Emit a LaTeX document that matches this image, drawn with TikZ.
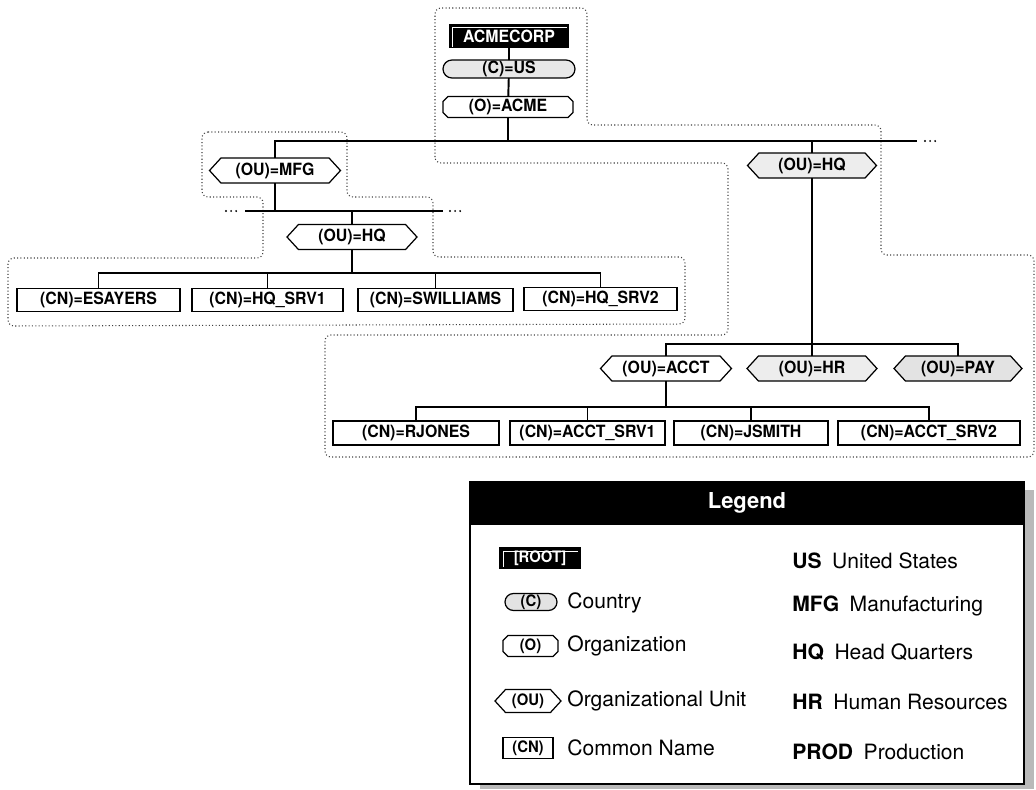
\documentclass[tikz,border=0pt]{standalone}
\usepackage{fontspec}
\setmainfont{TeX Gyre Heros}
\newfontfamily\lblfont[FakeStretch=0.94]{TeX Gyre Heros}
\usetikzlibrary{shapes.misc,shapes.symbols,calc}
\newdimen\pxu \pxu=0.02cm

\tikzset{
  lbl/.style={font=\lblfont\fontsize{9.6}{10}\selectfont\bfseries, inner sep=0pt, outer sep=0pt},
  tree/.style={line width=1.1pt},
  cnbox/.style={lbl, rectangle, draw, line width=0.8pt, fill=white, minimum height=23\pxu},
  ouhex/.style={lbl, signal, signal to=west and east, signal pointer angle=95,
    draw, line width=0.7pt, fill=white, minimum height=25\pxu},
  cshape/.style={lbl, rounded rectangle, draw, line width=0.7pt, fill=gray!18, minimum height=18\pxu},
  oshape/.style={lbl, rectangle, minimum height=21\pxu},
  octline/.style={line width=0.7pt},
  rootbox/.style={lbl, rectangle, draw, line width=0.8pt, fill=black, text=white},
  bevel/.style={white, line width=0.5pt},
  shade1/.style={fill=gray!14},
  shade2/.style={fill=gray!22},
  region/.style={black!75, line width=0.6pt, dash pattern=on 0.6pt off 1.3pt, rounded corners=6\pxu},
  more/.style={line width=1.2pt, dash pattern=on 0pt off 2.9pt, line cap=round},
  legtxt/.style={font=\fontsize{12}{14}\selectfont, inner sep=0pt, anchor=west},
  legkey/.style={font=\lblfont\fontsize{9}{10}\selectfont\bfseries}
}

% outline with cut corners around an organization node
\newcommand\octframe[2][5]{%
  \draw[octline] ($(#2.north west)+(#1,0)$) -- ($(#2.north east)+(-#1,0)$)
    -- ($(#2.north east)+(0,#1)$) -- ($(#2.south east)+(0,-#1)$)
    -- ($(#2.south east)+(-#1,0)$) -- ($(#2.south west)+(#1,0)$)
    -- ($(#2.south west)+(0,-#1)$) -- ($(#2.north west)+(0,#1)$) -- cycle;}

\begin{document}
\begin{tikzpicture}[x=0.02cm, y=-0.02cm]
\useasboundingbox (0,0) rectangle (1036,789);

% ---- partition outlines ----
\draw[region] (435,163) -- (435,8) -- (587,8) -- (587,125) -- (881,125) -- (881,255)
  -- (1034,255) -- (1034,457) -- (325,457) -- (325,335) -- (728,335) -- (728,163) -- cycle;
\draw[region] (202,132) -- (347,132) -- (347,197) -- (433,197) -- (433,257) -- (685,257)
  -- (685,324) -- (8,326) -- (8,258) -- (263,258) -- (263,197) -- (202,197) -- cycle;

% ---- root, country, organization ----
\node[rootbox, minimum width=119\pxu, minimum height=23\pxu] (acmecorp) at (509,36) {ACMECORP};
\draw[bevel] ($(acmecorp.south west)+(3,-1)$) |- ($(acmecorp.north east)+(-2,3)$);
\node[cshape, minimum width=132\pxu] (us) at (509,69) {(C)=US};
\node[oshape, minimum width=130\pxu] (acme) at (508,107) {(O)=ACME};
\octframe{acme}
\draw[tree] (acmecorp) -- (us);
\draw[tree] (us) -- (acme);

% ---- top level organizational units ----
\coordinate (topend) at (917,141);
\node[ouhex, minimum width=131\pxu] (mfg) at (275,170.5) {(OU)=MFG};
\node[ouhex, shade1, minimum width=129\pxu] (hqr) at (812,165.5) {(OU)=HQ};
\draw[tree] (mfg.north) |- (topend);
\draw[tree] (acme.south) -- (acme.south |- topend);
\draw[tree] (hqr.north) -- (hqr.north |- topend);
\draw[more] ($(topend)+(8,0)$) -- ++(12,0);

% ---- MFG branch ----
\coordinate (lbusL) at (245,211);
\coordinate (lbusR) at (443,211);
\draw[tree] (lbusL) -- (lbusR);
\draw[more] ($(lbusL)+(-19,0)$) -- ++(12,0);
\draw[more] ($(lbusR)+(7,0)$) -- ++(12,0);
\draw[tree] (mfg.south) -- (mfg.south |- lbusL);
\node[ouhex, minimum width=130\pxu] (hql) at (352,237) {(OU)=HQ};
\draw[tree] (hql.north) -- (hql.north |- lbusL);

\coordinate (lcb) at (0,273);
\node[cnbox, minimum width=163\pxu] (esayers) at (98.5,300) {(CN)=ESAYERS};
\node[cnbox, minimum width=151\pxu] (hqsrv1) at (267.5,300) {(CN)=HQ\_SRV1};
\node[cnbox, minimum width=155\pxu] (swilliams) at (435.5,300) {(CN)=SWILLIAMS};
\node[cnbox, minimum width=153\pxu] (hqsrv2) at (600.5,299) {(CN)=HQ\_SRV2};
\draw[tree] (esayers.north) |- (lcb -| hqsrv2.north) -- (hqsrv2.north);
\draw[tree] (hqsrv1.north) -- (hqsrv1.north |- lcb);
\draw[tree] (swilliams.north) -- (swilliams.north |- lcb);
\draw[tree] (hql.south) -- (hql.south |- lcb);

% ---- HQ branch ----
\coordinate (rb) at (0,344);
\node[ouhex, minimum width=131\pxu] (acct) at (666,368.5) {(OU)=ACCT};
\node[ouhex, shade1, minimum width=130\pxu] (hr) at (812,368.5) {(OU)=HR};
\node[ouhex, shade2, minimum width=128\pxu] (pay) at (958,368.5) {(OU)=PAY};
\draw[tree] (hqr.south) -- (hr.north);
\draw[tree] (acct.north) |- (rb -| pay.north) -- (pay.north);

\coordinate (rcb) at (0,407);
\node[cnbox, minimum height=24\pxu, minimum width=166\pxu] (rjones) at (416,433) {(CN)=RJONES};
\node[cnbox, minimum height=24\pxu, minimum width=155\pxu] (acctsrv1) at (587.5,433) {(CN)=ACCT\_SRV1};
\node[cnbox, minimum height=24\pxu, minimum width=154\pxu] (jsmith) at (751,433) {(CN)=JSMITH};
\node[cnbox, minimum height=24\pxu, minimum width=182\pxu] (acctsrv2) at (929,433) {(CN)=ACCT\_SRV2};
\draw[tree] (rjones.north) |- (rcb -| acctsrv2.north) -- (acctsrv2.north);
\draw[tree] (acctsrv1.north) -- (acctsrv1.north |- rcb);
\draw[tree] (jsmith.north) -- (jsmith.north |- rcb);
\draw[tree] (acct.south) -- (acct.south |- rcb);

% ---- legend ----
\fill[gray!55] (1024,490) rectangle (1034,789);
\fill[gray!55] (480,784) rectangle (1034,789);
\node[rectangle, draw, line width=1.2pt, fill=white, minimum width=554\pxu, minimum height=302\pxu,
  inner sep=0pt] (legend) at (747,633) {};
\node[rectangle, fill=black, draw, line width=1.2pt, minimum width=554\pxu, minimum height=42\pxu,
  text=white, font=\fontsize{12.5}{14}\selectfont\bfseries] (legendhead) at (747,503) {Legend};

\node[rootbox, legkey, minimum width=80\pxu, minimum height=20\pxu] (kroot) at (540,558) {[ROOT]};
\draw[bevel] ($(kroot.south west)+(3,-1)$) |- ($(kroot.north east)+(-2,3)$);
\node[cshape, legkey, fill=gray!22, minimum width=52\pxu, minimum height=17\pxu] (kc) at (531,602) {(C)};
\node[oshape, legkey, minimum width=55\pxu, minimum height=21\pxu] (ko) at (530.5,646) {(O)};
\octframe{ko}
\node[ouhex, legkey, minimum width=66\pxu, minimum height=23\pxu] (kou) at (528,701) {(OU)};
\node[cnbox, legkey, minimum width=50\pxu, minimum height=21\pxu] (kcn) at (528,748) {(CN)};

\node[legtxt] (tc) at (567,603) {Country};
\node[legtxt] (to) at (567,646) {Organization};
\node[legtxt] (tou) at (567,701) {Organizational Unit};
\node[legtxt] (tcn) at (567,748) {Common Name};

\node[legtxt] (aus) at (792,561) {\textbf{US}\hspace{6pt}United States};
\node[legtxt] (amfg) at (792,606) {\textbf{MFG}\hspace{6pt}Manufacturing};
\node[legtxt] (ahq) at (792,652) {\textbf{HQ}\hspace{6pt}Head Quarters};
\node[legtxt] (ahr) at (792,702) {\textbf{HR}\hspace{6pt}Human Resources};
\node[legtxt] (aprod) at (792,752) {\textbf{PROD}\hspace{6pt}Production};
\end{tikzpicture}
\end{document}
